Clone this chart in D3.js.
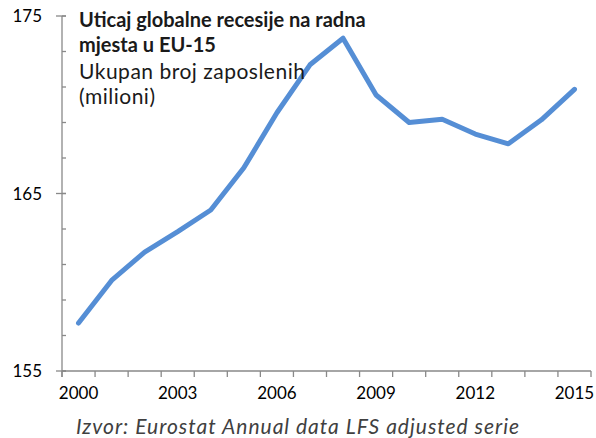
<!DOCTYPE html>
<html>
<head>
<meta charset="utf-8">
<script src="https://cdn.jsdelivr.net/npm/d3@7"></script>
<style>
  body { margin: 0; background: #fff; }
  text { font-family: Lato, "Open Sans", sans-serif; }
</style>
</head>
<body>
<div id="chart"></div>
<script>
// podaci
var godine = ["2000","2001","2002","2003","2004","2005","2006","2007","2008","2009","2010","2011","2012","2013","2014","2015"]
var zaposleni = [157.7, 160.1, 161.7, 162.85, 164.07, 166.45, 169.55, 172.25, 173.75, 170.55, 169.0, 169.18, 168.35, 167.8, 169.15, 170.87]
var oznakeX = ["2000","2003","2006","2009","2012","2015"]
var oznakeY = [155, 165, 175]

var width = 596
var height = 438

var svg = d3.select("#chart").append("svg")
	.attr("width", width)
	.attr("height", height)

var x = d3.scaleBand()
	.domain(godine)
	.range([62, 591])
	.padding(0)

var y = d3.scaleLinear()
	.domain([155, 175])
	.range([371, 16])

// os Y - mali podeoci
svg.append("g")
	.selectAll("line")
	.data(d3.range(155, 176, 2))
	.enter()
	.append("line")
	.attr("x1", 62)
	.attr("x2", 66)
	.attr("y1", d => y(d))
	.attr("y2", d => y(d))
	.attr("stroke", "#898989")
	.attr("stroke-width", 1.3)

// os Y - veliki podeoci
svg.append("g")
	.selectAll("line")
	.data(oznakeY)
	.enter()
	.append("line")
	.attr("x1", 56)
	.attr("x2", 66)
	.attr("y1", d => y(d))
	.attr("y2", d => y(d))
	.attr("stroke", "#898989")
	.attr("stroke-width", 1.3)

svg.append("line")
	.attr("x1", 62).attr("x2", 62)
	.attr("y1", y(175)).attr("y2", y(155) + 6)
	.attr("stroke", "#898989")
	.attr("stroke-width", 1.3)

svg.append("g")
	.selectAll("text")
	.data(oznakeY)
	.enter()
	.append("text")
	.attr("x", 42)
	.attr("y", d => y(d) + 6)
	.attr("text-anchor", "end")
	.attr("font-size", "17px")
	.attr("fill", "#000")
	.text(d => d)

// os X
svg.append("line")
	.attr("x1", 62).attr("x2", 591)
	.attr("y1", 371).attr("y2", 371)
	.attr("stroke", "#898989")
	.attr("stroke-width", 1.3)

svg.append("g")
	.selectAll("line")
	.data(godine.concat(["kraj"]))
	.enter()
	.append("line")
	.attr("x1", (d, i) => 62 + i * x.bandwidth())
	.attr("x2", (d, i) => 62 + i * x.bandwidth())
	.attr("y1", 371)
	.attr("y2", 377)
	.attr("stroke", "#898989")
	.attr("stroke-width", 1.3)

svg.append("g")
	.selectAll("text")
	.data(oznakeX)
	.enter()
	.append("text")
	.attr("x", d => x(d) + x.bandwidth() / 2)
	.attr("y", 399)
	.attr("text-anchor", "middle")
	.attr("font-size", "17px")
	.attr("fill", "#000")
	.text(d => d)

// linija
var linija = d3.line()
	.x((d, i) => x(godine[i]) + x.bandwidth() / 2)
	.y(d => y(d))

svg.append("path")
	.datum(zaposleni)
	.attr("d", linija)
	.attr("fill", "none")
	.attr("stroke", "#558ED5")
	.attr("stroke-width", 5)
	.attr("stroke-linejoin", "round")
	.attr("stroke-linecap", "round")

// naslov
svg.append("text")
	.attr("x", 79).attr("y", 27)
	.attr("font-size", "20px")
	.attr("font-weight", "bold")
	.attr("fill", "#1a1a1a")
	.text("Uticaj globalne recesije na radna")

svg.append("text")
	.attr("x", 79).attr("y", 52)
	.attr("font-size", "20px")
	.attr("font-weight", "bold")
	.attr("fill", "#1a1a1a")
	.text("mjesta u EU-15")

svg.append("text")
	.attr("x", 79).attr("y", 79)
	.attr("font-size", "21px")
	.attr("letter-spacing", "0.5px")
	.attr("fill", "#1a1a1a")
	.text("Ukupan broj zaposlenih")

svg.append("text")
	.attr("x", 79).attr("y", 104)
	.attr("font-size", "21px")
	.attr("letter-spacing", "0.5px")
	.attr("fill", "#1a1a1a")
	.text("(milioni)")

// izvor
svg.append("text")
	.attr("x", 298).attr("y", 434)
	.attr("text-anchor", "middle")
	.attr("font-size", "21px")
	.attr("letter-spacing", "1px")
	.attr("font-style", "italic")
	.attr("fill", "#404040")
	.text("Izvor: Eurostat Annual data LFS adjusted serie")
</script>
</body>
</html>
